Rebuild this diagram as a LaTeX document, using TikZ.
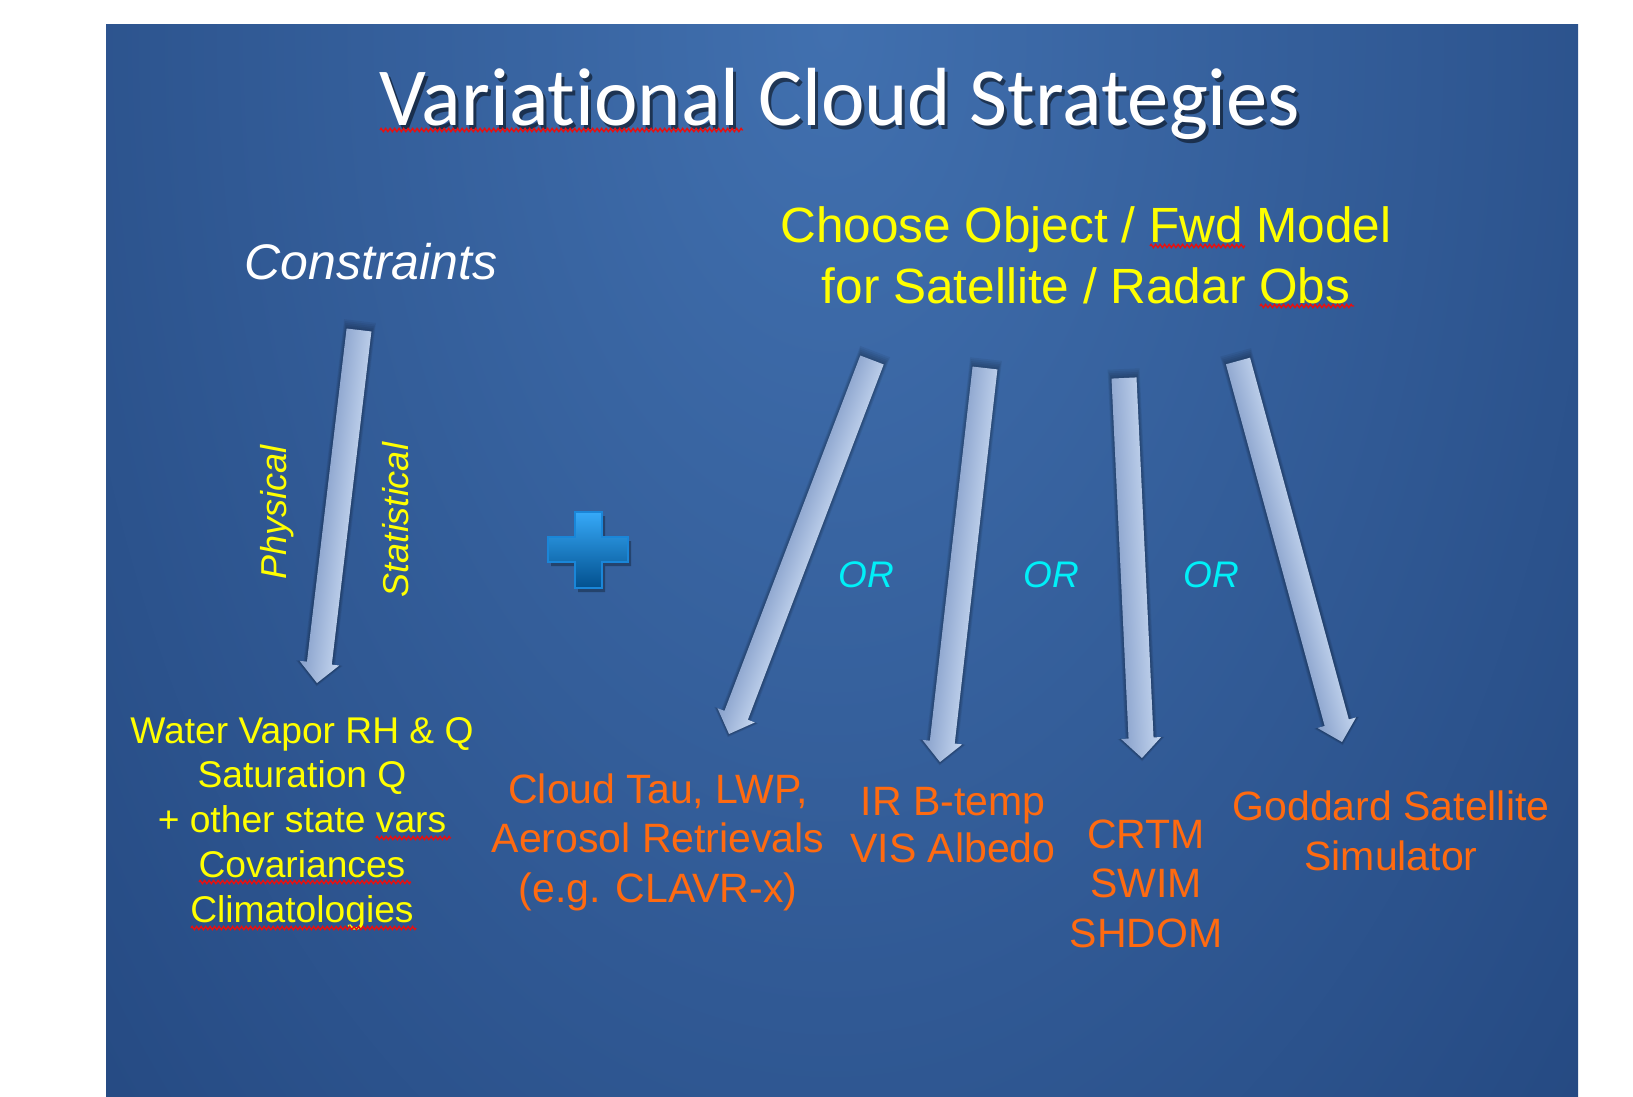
\documentclass[tikz,border=0pt]{standalone}
\usepackage{fontspec}
\setmainfont{Liberation Sans}
\newfontfamily\titlefont[Ligatures=NoCommon]{Carlito}
\usetikzlibrary{calc,decorations.pathmorphing}
\definecolor{bgin}{HTML}{4170AF}
\definecolor{bgout}{HTML}{16356A}
\definecolor{txtyellow}{HTML}{FFFF00}
\definecolor{txtorange}{HTML}{FF6A10}
\definecolor{txtcyan}{HTML}{00F0F8}
\definecolor{arrdark}{HTML}{869FCA}
\definecolor{arrmid}{HTML}{AFC5E6}
\definecolor{arrlight}{HTML}{C6D7F0}
\definecolor{plustop}{HTML}{36A9F8}
\definecolor{plusbot}{HTML}{02508E}
\definecolor{plusedge}{HTML}{1A86D8}
\definecolor{squig}{HTML}{E81010}
\pgfdeclareradialshading{slidebg}{\pgfpointorigin}{color(0bp)=(bgin); color(50bp)=(bgout)}
\newcommand\slidearrow[2]{%
  \pgfpointdiff{\pgfpointanchor{#1}{center}}{\pgfpointanchor{#2}{center}}%
  \pgfgetlastxy{\arrdx}{\arrdy}%
  \pgfmathveclen{\arrdx}{\arrdy}\let\arrlen\pgfmathresult
  \pgfmathatantwo{\arrdy}{\arrdx}\let\arrang\pgfmathresult
  \begin{scope}[transform canvas={shift={(#1)},rotate=\arrang},x=1pt,y=1pt]
    \foreach \i in {1,...,5}{
      \fill[black,opacity=.06] ({-1.8*\i},{-12.5-0.7*\i}) -- ({\arrlen-20},{-12.5-0.7*\i}) -- ({\arrlen-20},{-20-0.7*\i}) -- ({\arrlen+0.7*\i},0) -- ({\arrlen-20},{20+0.7*\i}) -- ({\arrlen-20},{12.5+0.7*\i}) -- ({-1.8*\i},{12.5+0.7*\i}) -- cycle;
    }
    \shade[bottom color=arrdark, middle color=arrmid, top color=arrlight]
      (0,-12.5) -- ({\arrlen-20},-12.5) -- ({\arrlen-20},-20) -- (\arrlen,0) -- ({\arrlen-20},20) -- ({\arrlen-20},12.5) -- (0,12.5) -- cycle;
  \end{scope}}
\tikzset{
  every node/.style={inner sep=0pt, outer sep=0pt},
  titletext/.style={font=\titlefont\fontsize{82.5}{96}\selectfont, anchor=base},
  headtext/.style={font=\fontsize{49.5}{61}\selectfont, text=txtyellow, align=center, anchor=base},
  constrtext/.style={font=\itshape\fontsize{50}{60}\selectfont, text=white, anchor=base},
  sidetext/.style={font=\itshape\fontsize{36}{43}\selectfont, text=txtyellow, rotate=90},
  ortext/.style={font=\itshape\fontsize{37}{44}\selectfont, text=txtcyan, anchor=base},
  listtext/.style={font=\fontsize{37.2}{44.75}\selectfont, text=txtyellow, align=center, anchor=base},
  outtext/.style={font=\fontsize{41}{49.5}\selectfont, text=txtorange, align=center, anchor=base},
  squiggle/.style={draw=squig, line width=1.4pt, decorate, decoration={zigzag, segment length=4.5pt, amplitude=1.6pt}},
}
\begin{document}
\begin{tikzpicture}[x=1pt,y=-1pt]
\useasboundingbox (0,0) rectangle (1633,1096);
\fill[white] (0,0) rectangle (1633,1096);
\begin{scope}
  \clip (106,24) rectangle (1578,1096);
  \shade[shading=slidebg] (60,-1230) rectangle (1600,1290);
\end{scope}
% title (with its drop shadow)
\node[titletext, text=black, text opacity=.5] at (843,129) {Variational Cloud Strategies};
\node[titletext, text=white] (title) at (840,125) {Variational Cloud Strategies};
\draw[squiggle] (380,130) -- (743,130);
% headings
\node[constrtext] (constraints) at (371,279) {Constraints};
\node[headtext] (choose) at (1086,303) {Choose Object / Fwd Model\\for Satellite / Radar Obs};
\draw[squiggle] (1150,246) -- (1245,246);
\draw[squiggle] (1260,306) -- (1354,306);
% arrow coordinates
\coordinate (a1s) at (359,330); \coordinate (a1t) at (317,683);
\coordinate (a2s) at (872,360); \coordinate (a2t) at (729,734);
\coordinate (a3s) at (985,368); \coordinate (a3t) at (940,762);
\coordinate (a4s) at (1124,378); \coordinate (a4t) at (1142,758);
\coordinate (a5s) at (1238,361); \coordinate (a5t) at (1342,742);
\slidearrow{a1s}{a1t}
\slidearrow{a2s}{a2t}
\slidearrow{a3s}{a3t}
\slidearrow{a4s}{a4t}
\slidearrow{a5s}{a5t}
% side labels
\node[sidetext] (phys) at (277,512) {Physical};
\node[sidetext] (stat) at (396,520) {Statistical};
% plus sign
\fill[black,opacity=.3] (578,516) -- (605,516) -- (605,541) -- (631,541) -- (631,566) -- (605,566) -- (605,592) -- (578,592) -- (578,566) -- (551,566) -- (551,541) -- (578,541) -- cycle;
\shade[top color=plustop, bottom color=plusbot, draw=plusedge, line width=1.2pt]
  (575,512) -- (602,512) -- (602,537) -- (628,537) -- (628,562) -- (602,562) -- (602,588) -- (575,588) -- (575,562) -- (548,562) -- (548,537) -- (575,537) -- cycle;
% OR labels
\node[ortext] (or1) at (866,587) {OR};
\node[ortext] (or2) at (1051,587) {OR};
\node[ortext] (or3) at (1211,587) {OR};
% results
\node[listtext] (state) at (302,922) {Water Vapor RH \& Q\\Saturation Q\\+ other state vars\\Covariances\\Climatologies};
\draw[squiggle] (376,838) -- (451,838);
\draw[squiggle] (199,882) -- (411,882);
\draw[squiggle] (191,928) -- (416,928);
\node[outtext] (cloud) at (658,902) {Cloud Tau, LWP,\\Aerosol Retrievals\\(e.g. CLAVR-x)};
\node[outtext, font=\fontsize{41}{47}\selectfont] (irvis) at (953,862) {IR B-temp\\VIS Albedo};
\node[outtext] (crtm) at (1146,947) {CRTM\\SWIM\\SHDOM};
\node[outtext, font=\fontsize{41}{50}\selectfont] (goddard) at (1391,870) {Goddard Satellite\\Simulator};
\end{tikzpicture}
\end{document}
